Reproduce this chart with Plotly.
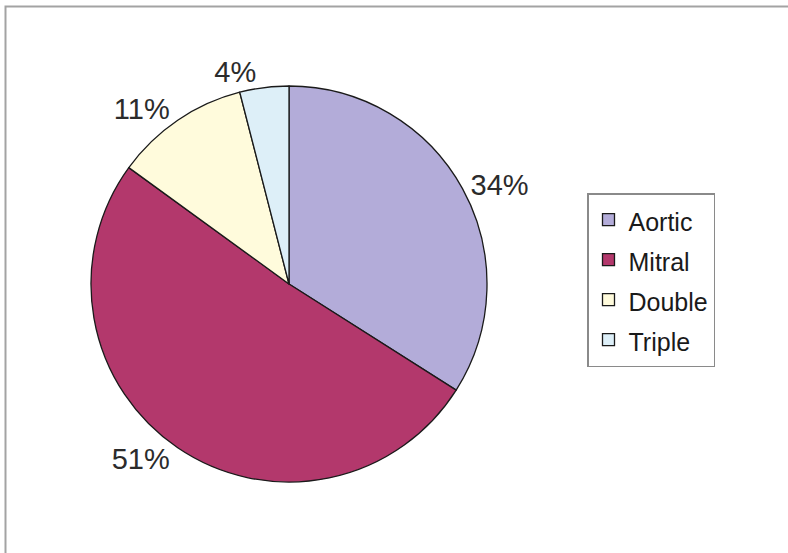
import plotly.graph_objects as go

categories = ["Aortic", "Mitral", "Double", "Triple"]
values = [34, 51, 11, 4]
colors = ["#b3acd9", "#b3386c", "#fffbdc", "#ddeff8"]

legend_labels = ['<span style="font-size:25px">%s</span>' % c for c in categories]

fig = go.Figure(go.Pie(
    labels=legend_labels,
    values=values,
    sort=False,
    direction="clockwise",
    rotation=0,
    marker=dict(colors=colors, line=dict(color="#1a1a1a", width=1.3)),
    textinfo="percent",
    texttemplate="%{percent:.0%}",
    textposition="outside",
    textfont=dict(size=29, color="#2b2b2b", family="Liberation Sans, Arial, sans-serif"),
    domain=dict(x=[91/788, 487/788], y=[1-482/553, 1-86/553]),
    showlegend=True,
))

fig.update_layout(
    width=788, height=553,
    margin=dict(l=0, r=0, t=0, b=0),
    paper_bgcolor="white",
    plot_bgcolor="white",
    font=dict(family="Liberation Sans, Arial, sans-serif", color="#1a1a1a"),
    legend=dict(
        x=587/788, xanchor="left",
        y=1-193/553, yanchor="top",
        font=dict(size=28.5, color="#1a1a1a"),
        bordercolor="#8a8a8a", borderwidth=1.5,
        bgcolor="white",
    ),
    shapes=[dict(type="rect", xref="paper", yref="paper",
                 x0=5.5/788, x1=1.2, y0=-0.2, y1=1-6.5/553,
                 line=dict(color="#a3a3a3", width=2))],
)

fig.write_html("out.html",
               config={"displayModeBar": False},
               post_script="document.body.style.margin='0px';document.body.style.overflow='hidden';")
